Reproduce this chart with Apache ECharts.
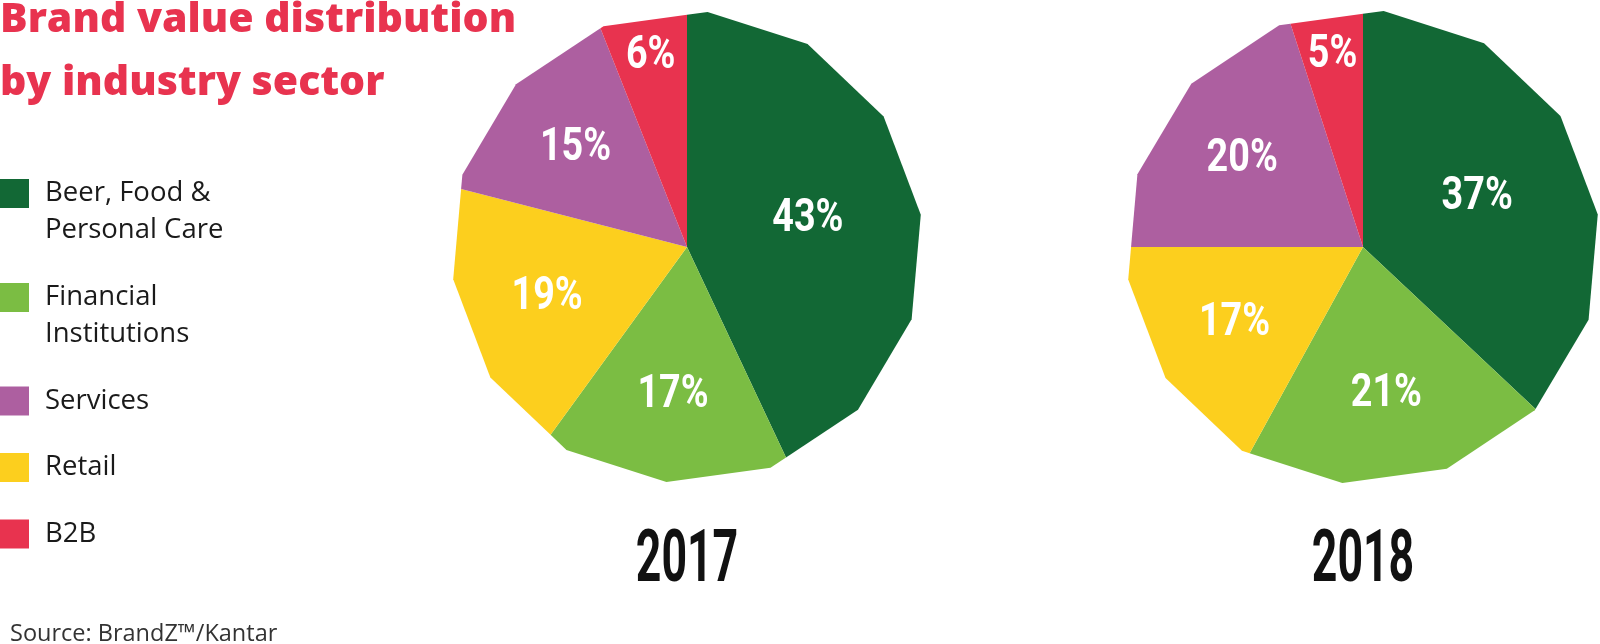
<!DOCTYPE html>
<html><head><meta charset="utf-8">
<script src="https://cdn.jsdelivr.net/npm/echarts@6/dist/echarts.min.js"></script>
<style>html,body{margin:0;padding:0;background:#fff}#c{width:1600px;height:644px}</style>
</head><body><div id="c"></div>
<script>
// ---- data ----
const categories = ['Beer, Food & Personal Care', 'Financial Institutions', 'Services', 'Retail', 'B2B'];
const legendLabels = ['Beer, Food &\nPersonal Care', 'Financial\nInstitutions', 'Services', 'Retail', 'B2B'];
const years = ['2017', '2018'];
const values2017 = [43, 17, 15, 19, 6];   // by category
const values2018 = [37, 21, 20, 17, 5];   // by category
const sliceOrder = [0, 1, 3, 2, 4];       // clockwise from 12 o'clock
const colors = ['#126835', '#7bbd43', '#ad5fa0', '#fccf1e', '#e8334f'];

// ---- layout / style ----
const N = 14, VERTEX_OFFSET = 5 / 360 * 100;
const centers = [[687, 247], [1363, 247]];
const radii = [236, 237];

function boundaryR(theta) {
  const step = 100 / N;
  const t = (((theta - VERTEX_OFFSET) % step) + step) % step / step;
  return Math.cos(Math.PI / N) / Math.cos((t - 0.5) * 2 * Math.PI / N);
}
function renderWedge(params, api) {
  const s = api.value(0), e = api.value(1), v = api.value(2);
  const pts = [api.coord([0, s]), api.coord([boundaryR(s), s])];
  for (let k = 0; k <= N; k++) {
    const a = VERTEX_OFFSET + k * 100 / N;
    if (a > s && a < e) pts.push(api.coord([1, a]));
  }
  pts.push(api.coord([boundaryR(e), e]));
  const mid = (s + e) / 2;
  const frac = v > 30 ? 0.525 : (v < 8 ? 0.82 : 0.63);
  const lp = api.coord([frac, mid]);
  return {
    type: 'group', children: [
      { type: 'polygon', shape: { points: pts }, style: { fill: api.visual('color') } },
      { type: 'text', x: lp[0], y: lp[1], scaleX: 0.82,
        style: { text: v + '%', fill: '#ffffff', fontFamily: 'Roboto', fontWeight: 'bold', fontSize: 46,
                 align: 'center', verticalAlign: 'middle' } }
    ]
  };
}

const allValues = [values2017, values2018];
const series = [];
years.forEach((y, yi) => {
  let cum = 0;
  sliceOrder.forEach(ci => {
    const v = allValues[yi][ci];
    series.push({
      type: 'custom', name: categories[ci], coordinateSystem: 'polar', polarIndex: yi,
      itemStyle: { color: colors[ci] }, silent: true, animation: false,
      data: [[cum, cum + v, v]], renderItem: renderWedge
    });
    cum += v;
  });
});

const legendCommon = {
  orient: 'vertical', left: 0, padding: 0, icon: 'rect', itemWidth: 29, itemHeight: 29,
  selectedMode: false,
  textStyle: { fontFamily: 'Open Sans', fontSize: 27.5, color: '#1a1a1a', lineHeight: 37, padding: [0, 0, 0, 11] },
  formatter: name => { const i = categories.indexOf(name); return i < 2 ? '\n' + legendLabels[i] : legendLabels[i]; }
};

const option = {
  backgroundColor: '#ffffff',
  animation: false,
  title: {
    text: 'Brand value distribution\nby industry sector', left: 0, top: -11, padding: 0,
    textStyle: { fontFamily: 'Open Sans', fontWeight: 800, fontSize: 41, lineHeight: 63, color: '#e8334f' }
  },
  legend: [
    Object.assign({}, legendCommon, { data: [categories[0]], top: 138 }),
    Object.assign({}, legendCommon, { data: [categories[1]], top: 242 }),
    Object.assign({}, legendCommon, { data: categories.slice(2), top: 382.5, itemGap: 29.5 })
  ],
  polar: centers.map((c, i) => ({ center: c, radius: [0, radii[i]] })),
  angleAxis: [0, 1].map(i => ({ polarIndex: i, type: 'value', min: 0, max: 100, startAngle: 90, clockwise: true, show: false })),
  radiusAxis: [0, 1].map(i => ({ polarIndex: i, type: 'value', min: 0, max: 1, show: false })),
  graphic: [
    ...years.map((y, i) => ({
      type: 'text', x: centers[i][0], y: 563, scaleX: 0.62,
      style: { text: y, fontFamily: 'Roboto', fontWeight: 'bold', fontSize: 72, fill: '#111111', align: 'center', verticalAlign: 'middle' }
    })),
    { type: 'text', x: 10, y: 634,
      style: { text: 'Source: BrandZ™/Kantar', fontFamily: 'Open Sans', fontSize: 23.5, fill: '#333333', align: 'left', verticalAlign: 'middle' } }
  ],
  series: series
};
const chart = echarts.init(document.getElementById('c'), null, { renderer: 'canvas' });
chart.setOption(option);
</script></body></html>
